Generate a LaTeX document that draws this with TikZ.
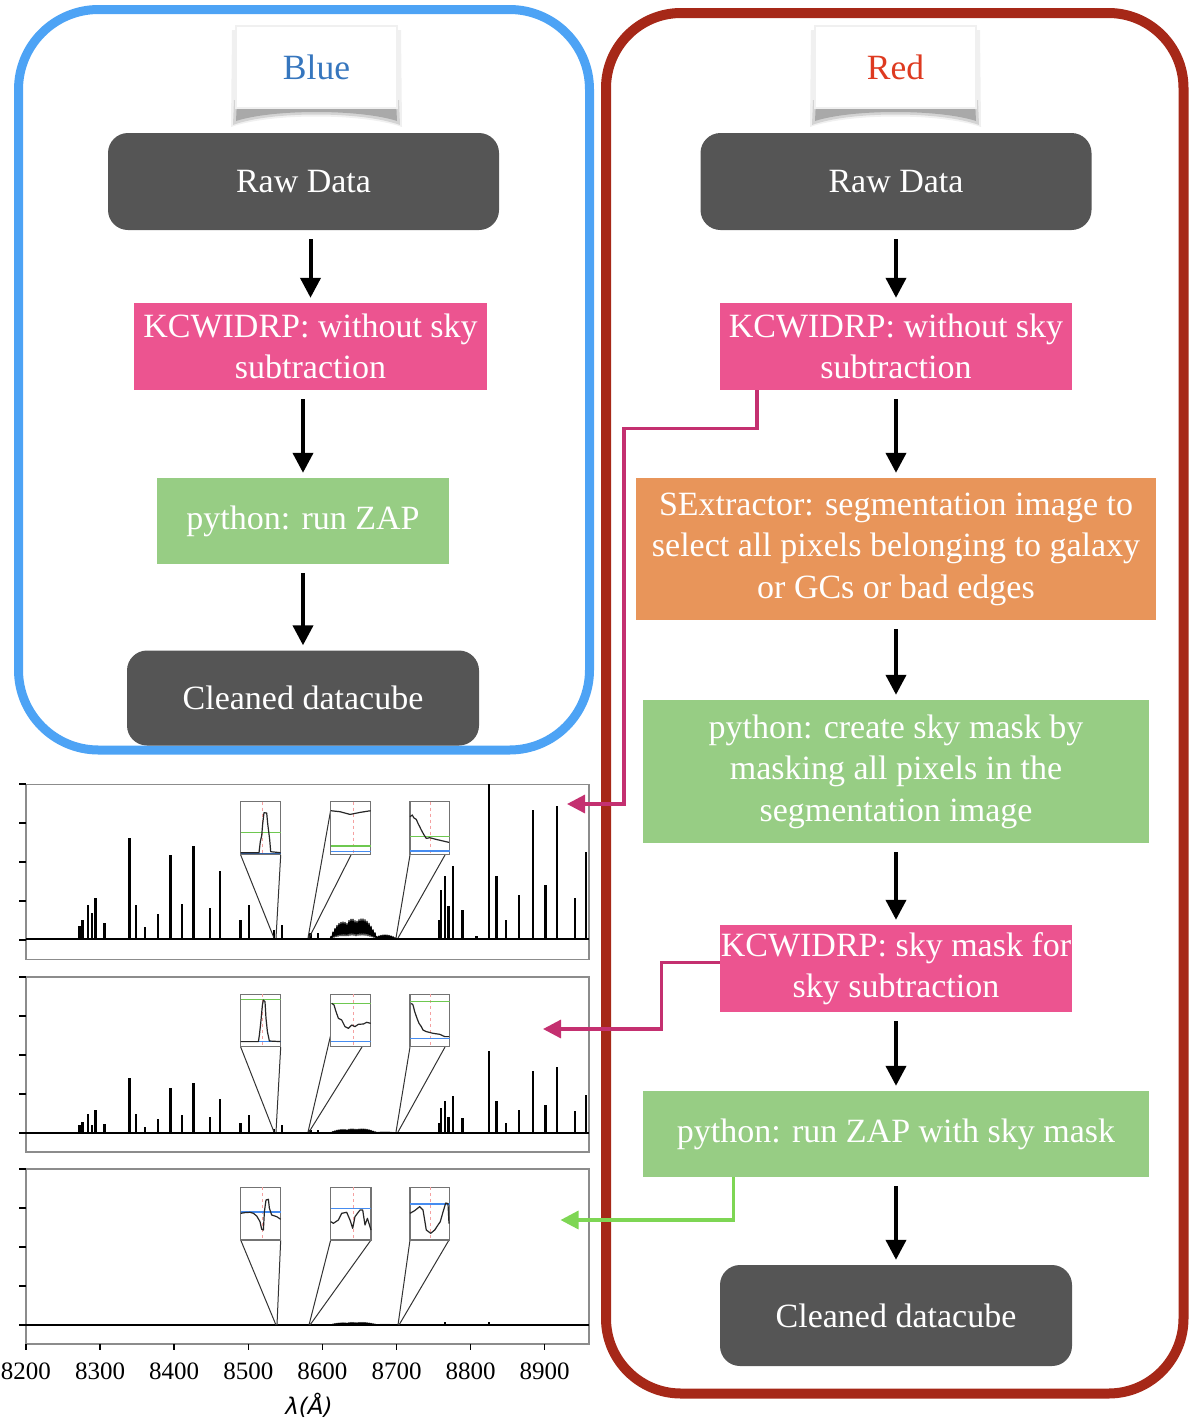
\documentclass[tikz,border=0pt]{standalone}
\usepackage{fontspec}
\setmainfont{Liberation Serif}
\newfontfamily\axisfont{DejaVu Sans}
\usetikzlibrary{arrows.meta,positioning}

\definecolor{framebl}{RGB}{77,163,245}
\definecolor{framerd}{RGB}{166,40,24}
\definecolor{boxgray}{RGB}{85,85,85}
\definecolor{kpink}{RGB}{236,84,144}
\definecolor{pygreen}{RGB}{151,205,132}
\definecolor{sexorange}{RGB}{232,149,90}
\definecolor{linkpink}{RGB}{196,48,112}
\definecolor{linkgreen}{RGB}{126,214,84}
\definecolor{hdrblue}{RGB}{54,118,190}
\definecolor{hdrred}{RGB}{222,58,32}
\definecolor{insetgreen}{RGB}{110,200,80}
\definecolor{insetblue}{RGB}{70,140,240}
\definecolor{insetred}{RGB}{245,160,160}

\tikzset{
  box/.style={text=white, align=center, inner sep=0pt, font=\fontsize{34}{41.5}\selectfont},
  darkbox/.style={box, fill=boxgray, rounded corners=20pt},
  pinkbox/.style={box, fill=kpink},
  greenbox/.style={box, fill=pygreen},
  orangebox/.style={box, fill=sexorange},
  header/.style={fill=white, draw=black!6, line width=1.5pt, minimum width=161pt, minimum height=82pt, font=\fontsize{35.5}{40}\selectfont},
  shade/.style={fill=black, opacity=#1},
  flow/.style={line width=4pt, -{Triangle[width=20pt,length=20pt]}, shorten <=9pt, shorten >=5pt},
  link/.style={line width=3.3pt, -{Triangle[width=18pt,length=18pt]}},
  panel/.style={draw=black!45, line width=1.5pt, minimum width=563pt, minimum height=175pt, inner sep=0pt},
  spec/.style={line width=2.4pt, line join=round},
  inset/.style={draw=black!55, line width=1.3pt, fill=white},
  zoomline/.style={black!80, line width=1pt},
  curve/.style={black!85, line width=1.2pt, line join=round},
  dashmid/.style={insetred, dashed, line width=1pt},
}

\begin{document}
\begin{tikzpicture}[x=1pt,y=-1pt]
\useasboundingbox (0,0) rectangle (1200,1422);

% frames
\draw[framebl, line width=9pt, rounded corners=80pt] (18.5,9.5) rectangle (589.5,750);
\draw[framerd, line width=10pt, rounded corners=75pt] (606,13) rectangle (1183.5,1393.5);

% headers with shadow
\fill[shade=0.06] (232,30) -- (401,30) -- (402,127) .. controls (362,113) and (270,113) .. (231,127) -- cycle;
\fill[shade=0.12] (234,100) -- (399,100) -- (400,125) .. controls (362,111) and (270,111) .. (233,125) -- cycle;
\fill[shade=0.2] (237,100) -- (396,100) -- (397,121) .. controls (360,109) and (273,109) .. (236,121) -- cycle;
\node[header, text=hdrblue] (hdrB) at (316.5,67) {Blue};
\fill[shade=0.06] (811,30) -- (980,30) -- (981,127) .. controls (941,113) and (850,113) .. (810,127) -- cycle;
\fill[shade=0.12] (813,100) -- (978,100) -- (979,125) .. controls (941,111) and (850,111) .. (812,125) -- cycle;
\fill[shade=0.2] (816,100) -- (975,100) -- (976,121) .. controls (939,109) and (852,109) .. (815,121) -- cycle;
\node[header, text=hdrred] (hdrR) at (895.5,67) {Red};

% blue column
\node[darkbox, minimum width=391pt, minimum height=97pt] (rawB) at (303.5,181.5) {Raw Data};
\node[pinkbox, minimum width=353pt, minimum height=87pt] (kcwB) at (310.5,346.5) {KCWIDRP: without sky\\subtraction};
\node[greenbox, minimum width=292pt, minimum height=86pt] (zapB) at (303,521) {python: run ZAP};
\node[darkbox, minimum width=352pt, minimum height=95pt] (cleanB) at (303,698) {Cleaned datacube};

% red column
\node[darkbox, minimum width=391pt, minimum height=97pt] (rawR) at (896,181.5) {Raw Data};
\node[pinkbox, minimum width=352pt, minimum height=87pt] (kcwR) at (896,346.5) {KCWIDRP: without sky\\subtraction};
\node[orangebox, minimum width=520pt, minimum height=142pt] (sexR) at (896,549) {SExtractor: segmentation image to\\select all pixels belonging to galaxy\\or GCs or bad edges};
\node[greenbox, minimum width=506pt, minimum height=143pt] (maskR) at (896,771.5) {python: create sky mask by\\masking all pixels in the\\segmentation image};
\node[pinkbox, minimum width=352pt, minimum height=87pt] (skyR) at (896,968.5) {KCWIDRP: sky mask for\\sky subtraction};
\node[greenbox, minimum width=506pt, minimum height=86pt] (zapmR) at (896,1134) {python: run ZAP with sky mask};
\node[darkbox, minimum width=352pt, minimum height=101pt] (cleanR) at (896,1315.5) {Cleaned datacube};

\draw[flow] (rawB.south -| kcwB.north) -- (kcwB.north);
\draw[flow] (kcwB.south -| zapB.north) -- (zapB.north);
\draw[flow] (zapB) -- (cleanB);
\draw[flow] (rawR) -- (kcwR);
\draw[flow] (kcwR) -- (sexR);
\draw[flow] (sexR) -- (maskR);
\draw[flow] (maskR) -- (skyR);
\draw[flow] (skyR) -- (zapmR);
\draw[flow] (zapmR) -- (cleanR);

% spectra panels
\node[panel] (specA) at (307.5,872) {};
\node[panel] (specB) at (307.5,1064.5) {};
\node[panel] (specC) at (307.5,1256.5) {};
\foreach \ytop in {784,977,1169}
  \foreach \t in {0,...,4}
    \draw[line width=1.5pt] (19,{\ytop+\t*39}) -- (26,{\ytop+\t*39});
\foreach \v [count=\i from 0] in {8200,8300,8400,8500,8600,8700,8800,8900} {
  \draw[line width=1.5pt] ({26+\i*74.1},1344) -- ++(0,6);
  \node[font=\fontsize{25}{28}\selectfont] at ({26+\i*74.1},1371) {\v};
}
\node[font=\axisfont\itshape\fontsize{23}{26}\selectfont] (lam) at (309,1405) {λ(Å)};

% sky lines
\draw[spec] (26,939) -- (589,939);
\draw[spec] (26,1133) -- (589,1133);
\draw[spec] (26,1325) -- (589,1325);
\foreach \x/\ha/\hb in {79.6/12.7/7.7, 82.3/19.3/11, 88.0/34.3/19.3, 91.8/26/8.3, 95.3/41.3/22.7,
    104.5/16/8.7, 129.4/101/55, 135.9/34/18.7, 144.7/11.7/6.3, 158.1/25.3/14.3, 170.3/84.3/45.3,
    182.2/35.3/17.7, 193.3/93.3/50.3, 209.7/31/16, 219.7/67.7/34.3, 240.3/18.7/10.3, 249.1/34.3/17.7,
    274.0/9.3/4.3, 282.0/14/7.7, 310.4/6/2.7, 318.0/6/2.7, 439.0/19.3/10, 440.9/49.3/25.3,
    445.1/63.3/31.7, 448.5/32.7/16, 453.1/72.7/36.7, 462.3/29.3/15, 476.5/2.7/1, 488.7/155/82.3,
    496.4/63.3/32, 505.9/18.7/10.3, 519.0/43.7/23, 532.7/129.3/62, 545.4/54.3/28.3, 557.2/133.3/66.3,
    574.8/41/22, 585.9/86.7/38} {
  \draw[spec] (\x,939) -- ++(0,-\ha);
  \draw[spec] (\x,1133) -- ++(0,-\hb);
}
\foreach \x/\hc in {129.4/1.5, 170.3/1.2, 445.1/3, 488.7/3.5, 532.7/1.5, 557.2/1.5, 585.9/1.5}
  \draw[spec] (\x,1325) -- ++(0,-\hc);
\foreach \base/\amp in {939/1, 1133/0.2, 1325/0.12}
  \draw[spec, line width=1.3pt] plot[domain=329:398, samples=139]
    (\x, {\base - \amp*(17*max(0,1-((\x-343)/13)*((\x-343)/13)) + 20*max(0,1-((\x-362)/15)*((\x-362)/15))
      + 4*max(0,1-((\x-385)/12)*((\x-385)/12)))*(0.6+0.4*cos((\x-329)*180))});

% zoom lines
\draw[zoomline] (240.7,855) -- (274,938) (280.7,855) -- (276,938)
  (330.7,810) -- (308,938) (351,855) -- (309,938)
  (410,855) -- (396,938) (445,855) -- (398,938);
\draw[zoomline] (240.7,1047) -- (274,1132) (280.7,1047) -- (276,1132)
  (330.7,1035) -- (308,1132) (362,1047) -- (309,1132)
  (410,1047) -- (396,1132) (445,1047) -- (398,1132);
\draw[zoomline] (240.7,1240) -- (276,1325) (280.7,1240) -- (277,1325)
  (330.7,1240) -- (309,1325) (371,1240) -- (310,1325)
  (410,1240) -- (398,1325) (449,1240) -- (399,1325);

% insets, top panel
\begin{scope}[shift={(240.7,801.7)}]
  \draw[inset] (0,0) rectangle (40,53);
  \draw[dashmid] (22,0) -- (22,53);
  \draw[insetgreen, line width=1.5pt] (0,31) -- (40,31);
  \draw[insetblue!70!black, line width=1.5pt] (0,51.6) -- (40,51.6);
  \draw[curve] (0,51) -- (18.3,51) -- (19.6,40) -- (21,34) -- (22,22) -- (23.3,11) -- (26,11.3)
    -- (27,22) -- (29,38) -- (30,50) -- (40,51);
\end{scope}
\begin{scope}[shift={(330.7,801.7)}]
  \draw[inset] (0,0) rectangle (40,53);
  \draw[dashmid] (22.7,0) -- (22.7,53);
  \draw[insetgreen, line width=1.5pt] (0,44.3) -- (40,44.3);
  \draw[insetblue, line width=1.5pt] (0,50) -- (40,50);
  \draw[curve] (0,9) -- (9.3,10) -- (19.3,12.7) -- (29.3,10.7) -- (40,9);
\end{scope}
\begin{scope}[shift={(410,801.7)}]
  \draw[inset] (0,0) rectangle (39.5,53);
  \draw[dashmid] (20.3,0) -- (20.3,53);
  \draw[insetgreen, line width=1.5pt] (0,35) -- (39.5,35);
  \draw[insetblue, line width=1.5pt] (0,49.3) -- (39.5,49.3);
  \draw[curve] (0,15) -- (2.3,13.3) -- (3.7,16) -- (6.3,17.7) -- (8,21.7) -- (9.7,25) -- (11.3,28.3)
    -- (13.7,32.7) -- (16.3,36.7) -- (19.7,36) -- (26.3,37.7) -- (39,40.7);
\end{scope}

% insets, middle panel
\begin{scope}[shift={(240.7,994.3)}]
  \draw[inset] (0,0) rectangle (40,52.4);
  \draw[dashmid] (22,0) -- (22,52.4);
  \draw[insetgreen, line width=1.5pt] (0,5) -- (40,5);
  \draw[insetblue, line width=1.5pt] (0,47.3) -- (40,47.3);
  \draw[curve] (0,47.3) -- (17.7,47.3) -- (18.7,40.7) -- (20,29) -- (21.7,10.7) -- (22.7,5.7)
    -- (24.3,7.3) -- (25.3,24) -- (26.7,37.3) -- (28.7,46.7) -- (40,47.3);
\end{scope}
\begin{scope}[shift={(330.7,994.3)}]
  \draw[inset] (0,0) rectangle (40,52.4);
  \draw[dashmid] (22.7,0) -- (22.7,52.4);
  \draw[insetgreen, line width=1.5pt] (0,9) -- (40,9);
  \draw[insetblue, line width=1.5pt] (0,47.3) -- (40,47.3);
  \draw[curve] (1,9) -- (3.3,10.7) -- (5.3,17.3) -- (7.7,24) -- (11,25.7) -- (14.3,32.3) -- (17.7,34)
    -- (21,30.7) -- (24.3,32.3) -- (27.7,30) -- (32.7,29.7) -- (36,28) -- (40,29);
\end{scope}
\begin{scope}[shift={(410,994.3)}]
  \draw[inset] (0,0) rectangle (39.5,52.4);
  \draw[dashmid] (20.3,0) -- (20.3,52.4);
  \draw[insetgreen, line width=1.5pt] (0,7.3) -- (39.5,7.3);
  \draw[insetblue, line width=1.5pt] (0,44) -- (39.5,44);
  \draw[curve] (1.3,9) -- (3,10.7) -- (4.7,17.3) -- (7,24) -- (9,29) -- (11.3,32.3) -- (13,35.7)
    -- (16.3,37.3) -- (23,39) -- (29.7,40) -- (34.7,42.3) -- (39,42.3);
\end{scope}

% insets, bottom panel
\begin{scope}[shift={(240.7,1187.3)}]
  \draw[inset] (0,0) rectangle (40,52.7);
  \draw[dashmid] (22,0) -- (22,52.7);
  \draw[insetblue, line width=1.5pt] (0,24.7) -- (40,24.7);
  \draw[curve] (0,26) -- (4.3,25.3) -- (9.3,25) -- (12.7,26) -- (16,28.7) -- (19.3,34.3) -- (21,42)
    -- (22.7,42.7) -- (23.7,24.3) -- (25.3,12.7) -- (27.7,12) -- (28.7,21) -- (31,27.7) -- (36,29.3) -- (40,32);
\end{scope}
\begin{scope}[shift={(330.7,1187.3)}]
  \draw[inset] (0,0) rectangle (40.3,52.7);
  \draw[dashmid] (22.7,0) -- (22.7,52.7);
  \draw[insetblue, line width=1.5pt] (0,21) -- (40.3,21);
  \draw[curve] (0,34.3) -- (2.7,36) -- (7.7,32.7) -- (11,26) -- (16,25) -- (19.3,32.7) -- (22,41)
    -- (24.3,29.3) -- (29.3,22.7) -- (32,22.7) -- (34.3,37.7) -- (36.7,31) -- (40.3,42.7);
\end{scope}
\begin{scope}[shift={(410,1187.3)}]
  \draw[inset] (0,0) rectangle (39.5,52.7);
  \draw[dashmid] (20.3,0) -- (20.3,52.7);
  \draw[insetblue, line width=1.5pt] (0,16.7) -- (39.5,16.7);
  \draw[curve] (0,26) -- (4.7,23.3) -- (9.7,19.3) -- (13,22.7) -- (16.3,42.7) -- (20.7,46) -- (24.7,42.7)
    -- (28,37.7) -- (30.3,34.3) -- (33,24.7) -- (35.7,15.7) -- (38,16.3) -- (39,36.3);
\end{scope}

% links from the red column to the spectra
\coordinate (tipA) at (567,804);
\coordinate (elbowA) at (624,428.5);
\coordinate (tipB) at (543,1029);
\coordinate (elbowB) at (661.5,1029);
\coordinate (tipC) at (560.5,1220);
\draw[link, linkpink] ([xshift=-139pt]kcwR.south) |- (elbowA) |- (tipA);
\draw[link, linkpink] ([yshift=6pt]skyR.west) -| (elbowB) -- (tipB);
\draw[link, linkgreen] ([xshift=-162.5pt]zapmR.south) |- (tipC);
\end{tikzpicture}
\end{document}
